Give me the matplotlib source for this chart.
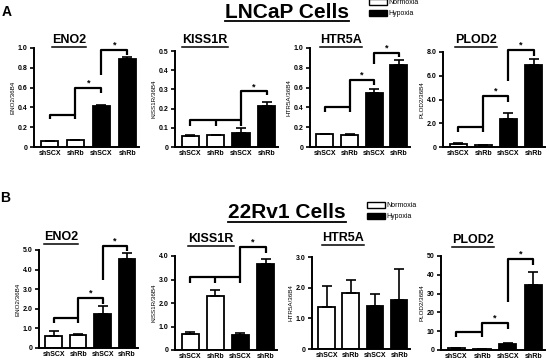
import matplotlib
matplotlib.use('Agg')
import matplotlib.pyplot as plt
from matplotlib.patches import Patch
from matplotlib.lines import Line2D

plt.rcParams['font.family'] = ['Liberation Sans', 'DejaVu Sans']

W, H = 550, 361

groups = ['shSCX', 'shRb', 'shSCX', 'shRb']
bar_colors = ['white', 'white', 'black', 'black']
conditions = ['Normoxia', 'Hypoxia']

# A: LNCaP cells
lncap_title = 'LNCaP Cells'
lncap_genes = ['ENO2', 'KISS1R', 'HTR5A', 'PLOD2']
lncap_eno2 = [0.065, 0.07, 0.41, 0.885]
lncap_eno2_err = [0.0, 0.0, 0.01, 0.025]
lncap_kiss1r = [0.057, 0.062, 0.072, 0.215]
lncap_kiss1r_err = [0.004, 0.003, 0.027, 0.02]
lncap_htr5a = [0.128, 0.125, 0.55, 0.83]
lncap_htr5a_err = [0.005, 0.004, 0.04, 0.045]
lncap_plod2 = [0.25, 0.17, 2.4, 6.94]
lncap_plod2_err = [0.05, 0.03, 0.5, 0.5]
lncap_yticks = [[0, 0.2, 0.4, 0.6, 0.8, 1.0],
                [0, 0.1, 0.2, 0.3, 0.4, 0.5],
                [0, 0.2, 0.4, 0.6, 0.8, 1.0],
                [0, 2.0, 4.0, 6.0, 8.0]]

# B: 22Rv1 cells
rv1_title = '22Rv1 Cells'
rv1_genes = ['ENO2', 'KISS1R', 'HTR5A', 'PLOD2']
rv1_eno2 = [0.59, 0.68, 1.73, 4.54]
rv1_eno2_err = [0.3, 0.05, 0.42, 0.3]
rv1_kiss1r = [0.68, 2.28, 0.64, 3.64]
rv1_kiss1r_err = [0.09, 0.27, 0.08, 0.24]
rv1_htr5a = [1.37, 1.83, 1.39, 1.59]
rv1_htr5a_err = [0.7, 0.42, 0.41, 1.03]
rv1_plod2 = [1.0, 0.4, 3.3, 34.6]
rv1_plod2_err = [0.2, 0.1, 0.4, 6.7]
rv1_yticks = [[0, 1.0, 2.0, 3.0, 4.0, 5.0],
              [0, 1.0, 2.0, 3.0, 4.0],
              [0, 1.0, 2.0, 3.0],
              [0, 10, 20, 30, 40, 50]]

# significance brackets (heights in data units)
# pair: h1, leg1, h2, leg2, start3, h3, leg3 ; triple: h1, leg1, h2, leg2
lncap_sig = [('pair', [0.32, 0.28, 0.60, 0.55, 0.73, 0.98, 0.93]),
             ('triple', [0.14, 0.11, 0.29, 0.27]),
             ('pair', [0.40, 0.35, 0.68, 0.63, 0.84, 0.95, 0.91]),
             ('pair', [1.7, 1.3, 4.3, 3.8, 5.6, 8.2, 7.7])]
rv1_sig = [('pair', [1.53, 1.27, 2.55, 2.24, 3.47, 5.2, 4.95]),
           ('triple', [3.1, 2.85, 4.38, 4.13]),
           None,
           ('pair', [9.6, 6.9, 14.4, 11.2, 25.5, 48.4, 45.0])]

fig = plt.figure(figsize=(W / 100, H / 100), dpi=100)
renderer = fig.canvas.get_renderer()


def px_axes(l, r, t, b):
    return fig.add_axes([l / W, 1 - b / H, (r - l) / W, (b - t) / H])


def underlined(x, y, s, size, lw, gap):
    t = fig.text(x / W, 1 - y / H, s, ha='center', va='center',
                 fontsize=size, fontweight='bold')
    bb = t.get_window_extent(renderer)
    fig.add_artist(Line2D([bb.x0 / W, bb.x1 / W], [(bb.y0 - gap) / H] * 2,
                          color='black', lw=lw, transform=fig.transFigure))


def star(ax, x, y):
    ax.annotate('*', (x, y), xytext=(0, 1.5), textcoords='offset points',
                ha='center', va='baseline', fontsize=6.5, fontweight='bold',
                annotation_clip=False)


def brackets(ax, sig):
    if sig is None:
        return
    kind, h = sig
    kw = dict(color='black', lw=1.6, clip_on=False, solid_capstyle='butt')
    if kind == 'pair':
        ax.plot([0, 0, 1, 1], [h[1], h[0], h[0], h[1]], **kw)
        ax.plot([1, 1, 2, 2], [h[0], h[2], h[2], h[3]], **kw)
        star(ax, 1.5, h[2])
        ax.plot([2, 2, 3, 3], [h[4], h[5], h[5], h[6]], **kw)
        star(ax, 2.5, h[5])
    else:
        ax.plot([0, 0, 2, 2], [h[1], h[0], h[0], h[1]], **kw)
        ax.plot([1, 1], [h[1], h[0]], **kw)
        ax.plot([2, 2, 3, 3], [h[0], h[2], h[2], h[3]], **kw)
        star(ax, 2.5, h[2])


def panel(box, gene, vals, errs, ticks, sig, fmt):
    ax = px_axes(*box)
    x = list(range(len(groups)))
    ax.bar(x, vals, width=0.68, color=bar_colors, edgecolor='black',
           linewidth=1.3, zorder=2)
    ax.errorbar(x, vals, yerr=[[0] * len(errs), errs], fmt='none',
                ecolor='black', elinewidth=1.2, capsize=3.5, capthick=1.2,
                zorder=3)
    ax.set_xlim(-0.6, 3.45)
    ax.set_ylim(0, ticks[-1])
    ax.set_yticks(ticks)
    ax.set_yticklabels(['0' if v == 0 else fmt % v for v in ticks])
    ax.set_xticks(x)
    ax.set_xticklabels(groups)
    for s in ['top', 'right']:
        ax.spines[s].set_visible(False)
    for s in ['left', 'bottom']:
        ax.spines[s].set_linewidth(1.4)
    ax.tick_params(axis='y', length=3, width=1.2, pad=1.5, labelsize=5)
    ax.tick_params(axis='x', length=0, pad=2.5, labelsize=5)
    for lab in ax.get_xticklabels() + ax.get_yticklabels():
        lab.set_fontweight('bold')
    ax.set_ylabel(gene + '/36B4', fontsize=4.5, labelpad=2)
    brackets(ax, sig)
    return ax


top_boxes = [(34, 139, 48, 147), (175, 278, 51, 147),
             (310, 410, 48, 147), (443, 545, 52, 147)]
bot_boxes = [(39, 138, 250, 348), (175, 277, 256, 350),
             (312, 410, 257, 349), (441, 545, 256, 350)]
top_title_pos = [(69, 40), (205, 40), (341, 40), (476, 40)]
bot_title_pos = [(61, 237), (211, 239), (343, 238), (473, 240)]

lncap_vals = [lncap_eno2, lncap_kiss1r, lncap_htr5a, lncap_plod2]
lncap_errs = [lncap_eno2_err, lncap_kiss1r_err, lncap_htr5a_err, lncap_plod2_err]
rv1_vals = [rv1_eno2, rv1_kiss1r, rv1_htr5a, rv1_plod2]
rv1_errs = [rv1_eno2_err, rv1_kiss1r_err, rv1_htr5a_err, rv1_plod2_err]

for i in range(4):
    panel(top_boxes[i], lncap_genes[i], lncap_vals[i], lncap_errs[i],
          lncap_yticks[i], lncap_sig[i], '%.1f')
    underlined(*top_title_pos[i], lncap_genes[i], 9, 1.1, 0.5)
for i in range(4):
    panel(bot_boxes[i], rv1_genes[i], rv1_vals[i], rv1_errs[i],
          rv1_yticks[i], rv1_sig[i], '%d' if i == 3 else '%.1f')
    underlined(*bot_title_pos[i], rv1_genes[i], 9, 1.1, 0.5)

underlined(287, 12, lncap_title, 15, 1.3, -1)
underlined(287, 213, rv1_title, 15, 1.3, -1)

fig.text(2 / W, 1 - 12 / H, 'A', fontsize=10, fontweight='bold', va='center')
fig.text(0 / W, 1 - 198 / H, 'B', fontsize=10, fontweight='bold', va='center')

handles = [Patch(facecolor=c, edgecolor='black', linewidth=1, label=lab)
           for c, lab in zip(['white', 'black'], conditions)]
for y0, x0 in [(-1, 369), (202, 367)]:
    fig.legend(handles=handles, loc='upper left',
               bbox_to_anchor=(x0 / W, 1 - y0 / H), frameon=False,
               fontsize=5, handlelength=2.6, handleheight=0.9,
               labelspacing=0.55, handletextpad=0.2, borderpad=0,
               borderaxespad=0)

fig.savefig('out.png', dpi=100)
